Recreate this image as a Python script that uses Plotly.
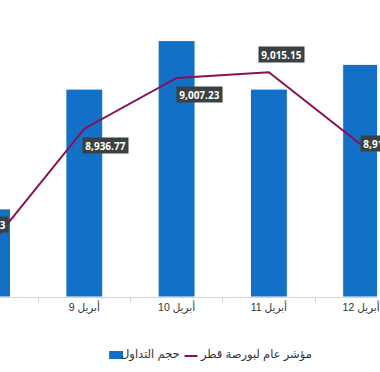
import plotly.graph_objects as go

# ---- data ----
categories = ["أبريل 8", "أبريل 9", "أبريل 10", "أبريل 11", "أبريل 12"]
volume = [89, 210, 259, 210, 235]
index_values = [8778.03, 8936.77, 9007.23, 9015.15, 8914.52]
index_labels = ["8,778.03", "8,936.77", "9,007.23", "9,015.15", "8,914.52"]
series_names = ["حجم التداول", "مؤشر عام لبورصة قطر"]

# ---- style ----
BAR_COLOR = "#1270c6"
LINE_COLOR = "#8a1056"
LABEL_BG = "#3b4141"
label_shift = [(-7, 18), (21, -17), (23, -17), (13, 18), (22, 1)]
x_range = [0.086, 4.172]

fig = go.Figure()
fig.add_trace(go.Bar(
    x=categories, y=volume, name=series_names[0],
    marker=dict(color=BAR_COLOR, line=dict(color="white", width=1)),
    showlegend=False, yaxis="y",
))
fig.add_trace(go.Scatter(
    x=categories, y=index_values, name=series_names[1], mode="lines",
    line=dict(color=LINE_COLOR, width=2), showlegend=False, yaxis="y2",
))

# data labels (positioned via axis-domain fraction so off-range anchors still draw)
for i, (val, txt) in enumerate(zip(index_values, index_labels)):
    frac = (i - x_range[0]) / (x_range[1] - x_range[0])
    dx, dy = label_shift[i]
    fig.add_annotation(
        x=frac, xref="x domain", y=val, yref="y2",
        text=txt, showarrow=False, xanchor="center", yanchor="middle",
        xshift=dx, yshift=dy, width=41, height=11, borderpad=2,
        bgcolor=LABEL_BG, font=dict(family="Open Sans", size=10, color="white", weight="bold"),
    )

# manual legend (symbol left of text)
def py(p):
    return (297 - p) / 297

LEGEND_FONT = dict(family="Liberation Sans, DejaVu Sans", size=11.5, color="#333333")
fig.add_shape(type="rect", xref="paper", yref="paper",
              x0=110 / 380, x1=124 / 380, y0=py(359), y1=py(351),
              fillcolor=BAR_COLOR, line=dict(width=0))
fig.add_annotation(x=183 / 380, y=py(355), xref="paper", yref="paper",
                   text=series_names[0], showarrow=False, xanchor="right", yanchor="middle",
                   font=LEGEND_FONT)
fig.add_shape(type="line", xref="paper", yref="paper",
              x0=186 / 380, x1=199 / 380, y0=py(356), y1=py(356),
              line=dict(color=LINE_COLOR, width=2))
fig.add_annotation(x=200 / 380, y=py(355), xref="paper", yref="paper",
                   text=series_names[1], showarrow=False, xanchor="left", yanchor="middle",
                   font=LEGEND_FONT)

fig.update_layout(
    width=380, height=372,
    margin=dict(l=0, r=0, t=0, b=75),
    paper_bgcolor="white", plot_bgcolor="white",
    bargap=0.6,
    xaxis=dict(type="category", range=x_range, showgrid=False, zeroline=False,
               showline=True, linecolor="#ccd6eb", linewidth=1,
               ticks="outside", tickson="boundaries", ticklen=5, tickcolor="#ccd6eb",
               tickfont=dict(family="Liberation Sans, DejaVu Sans", size=10.5, color="#333333")),
    yaxis=dict(range=[0, 300], visible=False, showgrid=False, zeroline=False),
    yaxis2=dict(range=[8703, 9115.5], overlaying="y", side="right", visible=False,
                showgrid=False, zeroline=False),
)

fig.write_html("out.html", config={"displayModeBar": False},
               post_script="document.body.style.margin='0';document.body.style.overflow='hidden';")
